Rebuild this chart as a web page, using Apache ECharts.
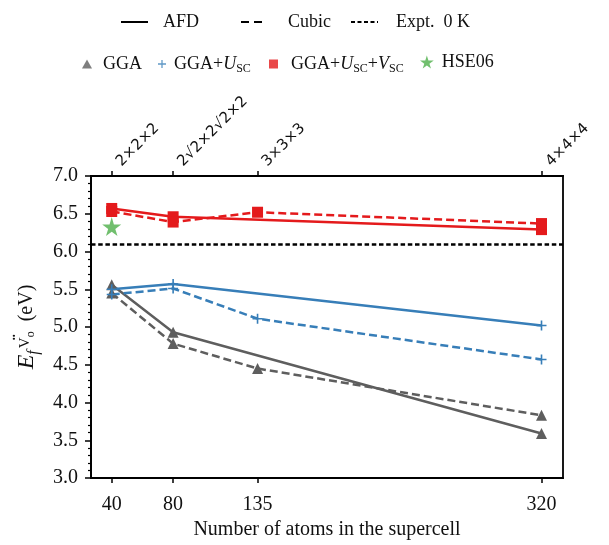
<!DOCTYPE html>
<html><head><meta charset="utf-8">
<script src="https://cdn.jsdelivr.net/npm/echarts@6/dist/echarts.min.js"></script>
<style>html,body{margin:0;padding:0;background:#fff}#c{width:609px;height:545px}</style>
</head><body><div id="c"></div>
<script>
// ---- data ----
const atomsAFD = [40, 80, 320];
const atomsCubic = [40, 80, 135, 320];
const ggaAFD = [5.56, 4.93, 3.59];
const ggaCubic = [5.45, 4.78, 4.45, 3.83];
const ggaUAFD = [5.50, 5.57, 5.02];
const ggaUCubic = [5.43, 5.51, 5.11, 4.57];
const ggaUVAFD = [6.57, 6.46, 6.29];
const ggaUVCubic = [6.53, 6.39, 6.52, 6.37];
const hseAtoms = [40];
const hseValues = [6.33];
const exptValue = 6.10;
const xTickValues = [40, 80, 135, 320];
const xTickLabels = ['40', '80', '135', '320'];
const topTickLabels = ['2×2×2', '2√2×2√2×2', '3×3×3', '4×4×4'];
const yTickLabels = ['3.0','3.5','4.0','4.5','5.0','5.5','6.0','6.5','7.0'];

const GRAY = '#5e5e5e', BLUE = '#377eb8', RED = '#e41a1c', GREEN = '#4daf4a';
const SERIF = '"Liberation Serif", "Times New Roman", serif';
const PLUS = 'path://M4.2,0 H5.8 V4.2 H10 V5.8 H5.8 V10 H4.2 V5.8 H0 V4.2 H4.2 Z';
const STAR = 'path://M50,0 L61,35 L98,35 L68,57 L79,91 L50,70 L21,91 L32,57 L2,35 L39,35 Z';

const pairs = (xs, ys) => xs.map((x, i) => [x, ys[i]]);

function dataSeries(name, xs, ys, color, symbol, size, dashed) {
  return {
    name, type: 'line', data: pairs(xs, ys), symbol, symbolSize: size,
    lineStyle: { color, width: 2.5, type: dashed ? [8, 4] : 'solid' },
    itemStyle: { color }, silent: true, animation: false, z: 3
  };
}

const richLegend = {
  n: { fontFamily: SERIF, fontSize: 18, color: '#111' },
  i: { fontFamily: SERIF, fontSize: 18, fontStyle: 'italic', color: '#111' },
  s: { fontFamily: SERIF, fontSize: 12, color: '#111', padding: [9, 0, 0, 0] }
};
function legendItem(name, left, top, w, h, gap, icon) {
  const d = icon ? { name, icon } : { name };
  return {
    data: [d], left, top, padding: 0, itemWidth: w, itemHeight: h, selectedMode: false,
    formatter: function (n) {
      if (n === 'GGA+U') return '{n|GGA+}{i|U}{s|SC}';
      if (n === 'GGA+U+V') return '{n|GGA+}{i|U}{s|SC}{n|+}{i|V}{s|SC}';
      return '{n|' + n + '}';
    },
    textStyle: { fontFamily: SERIF, fontSize: 18, color: '#111', padding: [0, 0, 0, gap - 5], rich: richLegend }
  };
}

const chart = echarts.init(document.getElementById('c'));
chart.setOption({
  animation: false,
  textStyle: { fontFamily: SERIF },
  grid: { left: 91, right: 46, top: 176, bottom: 67, show: true, borderColor: '#000', borderWidth: 1.8 },
  legend: [
    legendItem('AFD', 120, 13, 27, 14, 15),
    legendItem('Cubic', 240, 13, 26, 14, 21),
    legendItem('Expt.  0 K', 350, 13, 27, 14, 18),
    legendItem('GGA', 82, 55, 10, 9, 11, 'triangle'),
    legendItem('GGA+U', 158, 55, 8, 8, 8, PLUS),
    legendItem('GGA+U+V', 269, 55, 9, 9, 13, 'rect'),
    legendItem('HSE06', 420, 53, 14, 13, 8, STAR)
  ],
  xAxis: [
    {
      type: 'value', position: 'bottom', min: 26.5, max: 334,
      axisLine: { lineStyle: { color: '#000', width: 1.8 } },
      axisTick: { show: true, customValues: xTickValues, length: 5, lineStyle: { color: '#000', width: 1.5 } },
      axisLabel: {
        customValues: xTickValues, fontFamily: SERIF, fontSize: 20, color: '#111', margin: 17,
        formatter: v => xTickLabels[xTickValues.indexOf(v)]
      },
      splitLine: { show: false },
      name: 'Number of atoms in the supercell', nameLocation: 'middle', nameGap: 42,
      nameTextStyle: { fontFamily: SERIF, fontSize: 20, color: '#111' }
    },
    {
      type: 'value', position: 'top', min: 26.5, max: 334,
      axisLine: { lineStyle: { color: '#000', width: 1.8 } },
      axisTick: { show: true, customValues: xTickValues, length: 5, lineStyle: { color: '#000', width: 1.5 } },
      axisLabel: {
        customValues: xTickValues, rotate: -45, fontFamily: '"DejaVu Sans", sans-serif',
        fontSize: 15, color: '#111', margin: 5, padding: [0, 0, 0, 10],
        formatter: v => topTickLabels[xTickValues.indexOf(v)]
      },
      splitLine: { show: false }
    }
  ],
  yAxis: {
    type: 'value', min: 3, max: 7, interval: 0.5,
    axisLine: { show: true, lineStyle: { color: '#000', width: 1.8 } },
    axisTick: { show: true, length: 6, lineStyle: { color: '#000', width: 1.5 } },
    minorTick: { show: true, splitNumber: 5, length: 3, lineStyle: { color: '#000', width: 1.2 } },
    axisLabel: {
      fontFamily: SERIF, fontSize: 20, color: '#111', margin: 13,
      formatter: v => yTickLabels[Math.round((v - 3) / 0.5)]
    },
    splitLine: { show: false },
    name: '{e|E}{f|f}{v|V}{d|¨}{o|o}{n|  (eV)}',
    nameLocation: 'middle', nameRotate: 90, nameGap: 44,
    nameTextStyle: {
      fontFamily: SERIF, fontSize: 20, color: '#111',
      rich: {
        e: { fontFamily: SERIF, fontSize: 24, fontStyle: 'italic', color: '#111', lineHeight: 30, verticalAlign: 'middle' },
        f: { fontFamily: SERIF, fontSize: 16, fontStyle: 'italic', color: '#111', lineHeight: 15, verticalAlign: 'bottom', padding: [0, 2, 0, 0] },
        v: { fontFamily: SERIF, fontSize: 15, color: '#111', lineHeight: 15, verticalAlign: 'top', padding: [5, 0, 0, 0] },
        d: { fontFamily: SERIF, fontSize: 18, fontWeight: 'bold', color: '#111', lineHeight: 15, verticalAlign: 'top', padding: [0, 0, 0, 0], width: 0 },
        o: { fontFamily: SERIF, fontSize: 12, color: '#111', lineHeight: 12, verticalAlign: 'top', padding: [13, 0, 0, 0] },
        n: { fontFamily: SERIF, fontSize: 20, color: '#111', lineHeight: 30, verticalAlign: 'middle' }
      }
    }
  },
  series: [
    { name: 'AFD', type: 'line', data: [], symbol: 'none', lineStyle: { color: '#000', width: 3, type: 'solid' }, itemStyle: { color: 'rgba(0,0,0,0)' } },
    { name: 'Cubic', type: 'line', data: [], symbol: 'none', lineStyle: { color: '#000', width: 3, type: [8, 5] }, itemStyle: { color: 'rgba(0,0,0,0)' } },
    {
      name: 'Expt.  0 K', type: 'line', data: [], symbol: 'none',
      lineStyle: { color: '#000', width: 3, type: [4, 2.5] }, itemStyle: { color: 'rgba(0,0,0,0)' },
      markLine: {
        silent: true, symbol: 'none', label: { show: false },
        lineStyle: { color: '#000', width: 2.5, type: [4.5, 2.7] },
        data: [{ yAxis: exptValue }]
      }
    },
    { name: 'GGA', type: 'scatter', data: [], itemStyle: { color: GRAY } },
    { name: 'GGA+U', type: 'scatter', data: [], itemStyle: { color: BLUE } },
    { name: 'GGA+U+V', type: 'scatter', data: [], itemStyle: { color: RED } },
    { name: 'HSE06', type: 'scatter', data: [], itemStyle: { color: GREEN } },

    dataSeries('GGA AFD', atomsAFD, ggaAFD, GRAY, 'triangle', 11, false),
    dataSeries('GGA Cubic', atomsCubic, ggaCubic, GRAY, 'triangle', 11, true),
    dataSeries('GGA+U AFD', atomsAFD, ggaUAFD, BLUE, PLUS, 10, false),
    dataSeries('GGA+U Cubic', atomsCubic, ggaUCubic, BLUE, PLUS, 10, true),
    dataSeries('GGA+U+V AFD', atomsAFD, ggaUVAFD, RED, 'rect', 11, false),
    dataSeries('GGA+U+V Cubic', atomsCubic, ggaUVCubic, RED, 'rect', 11, true),
    {
      name: 'HSE06 point', type: 'scatter', data: pairs(hseAtoms, hseValues),
      symbol: STAR, symbolSize: 19, itemStyle: { color: GREEN }, z: 4, silent: true
    }
  ]
});
</script></body></html>
